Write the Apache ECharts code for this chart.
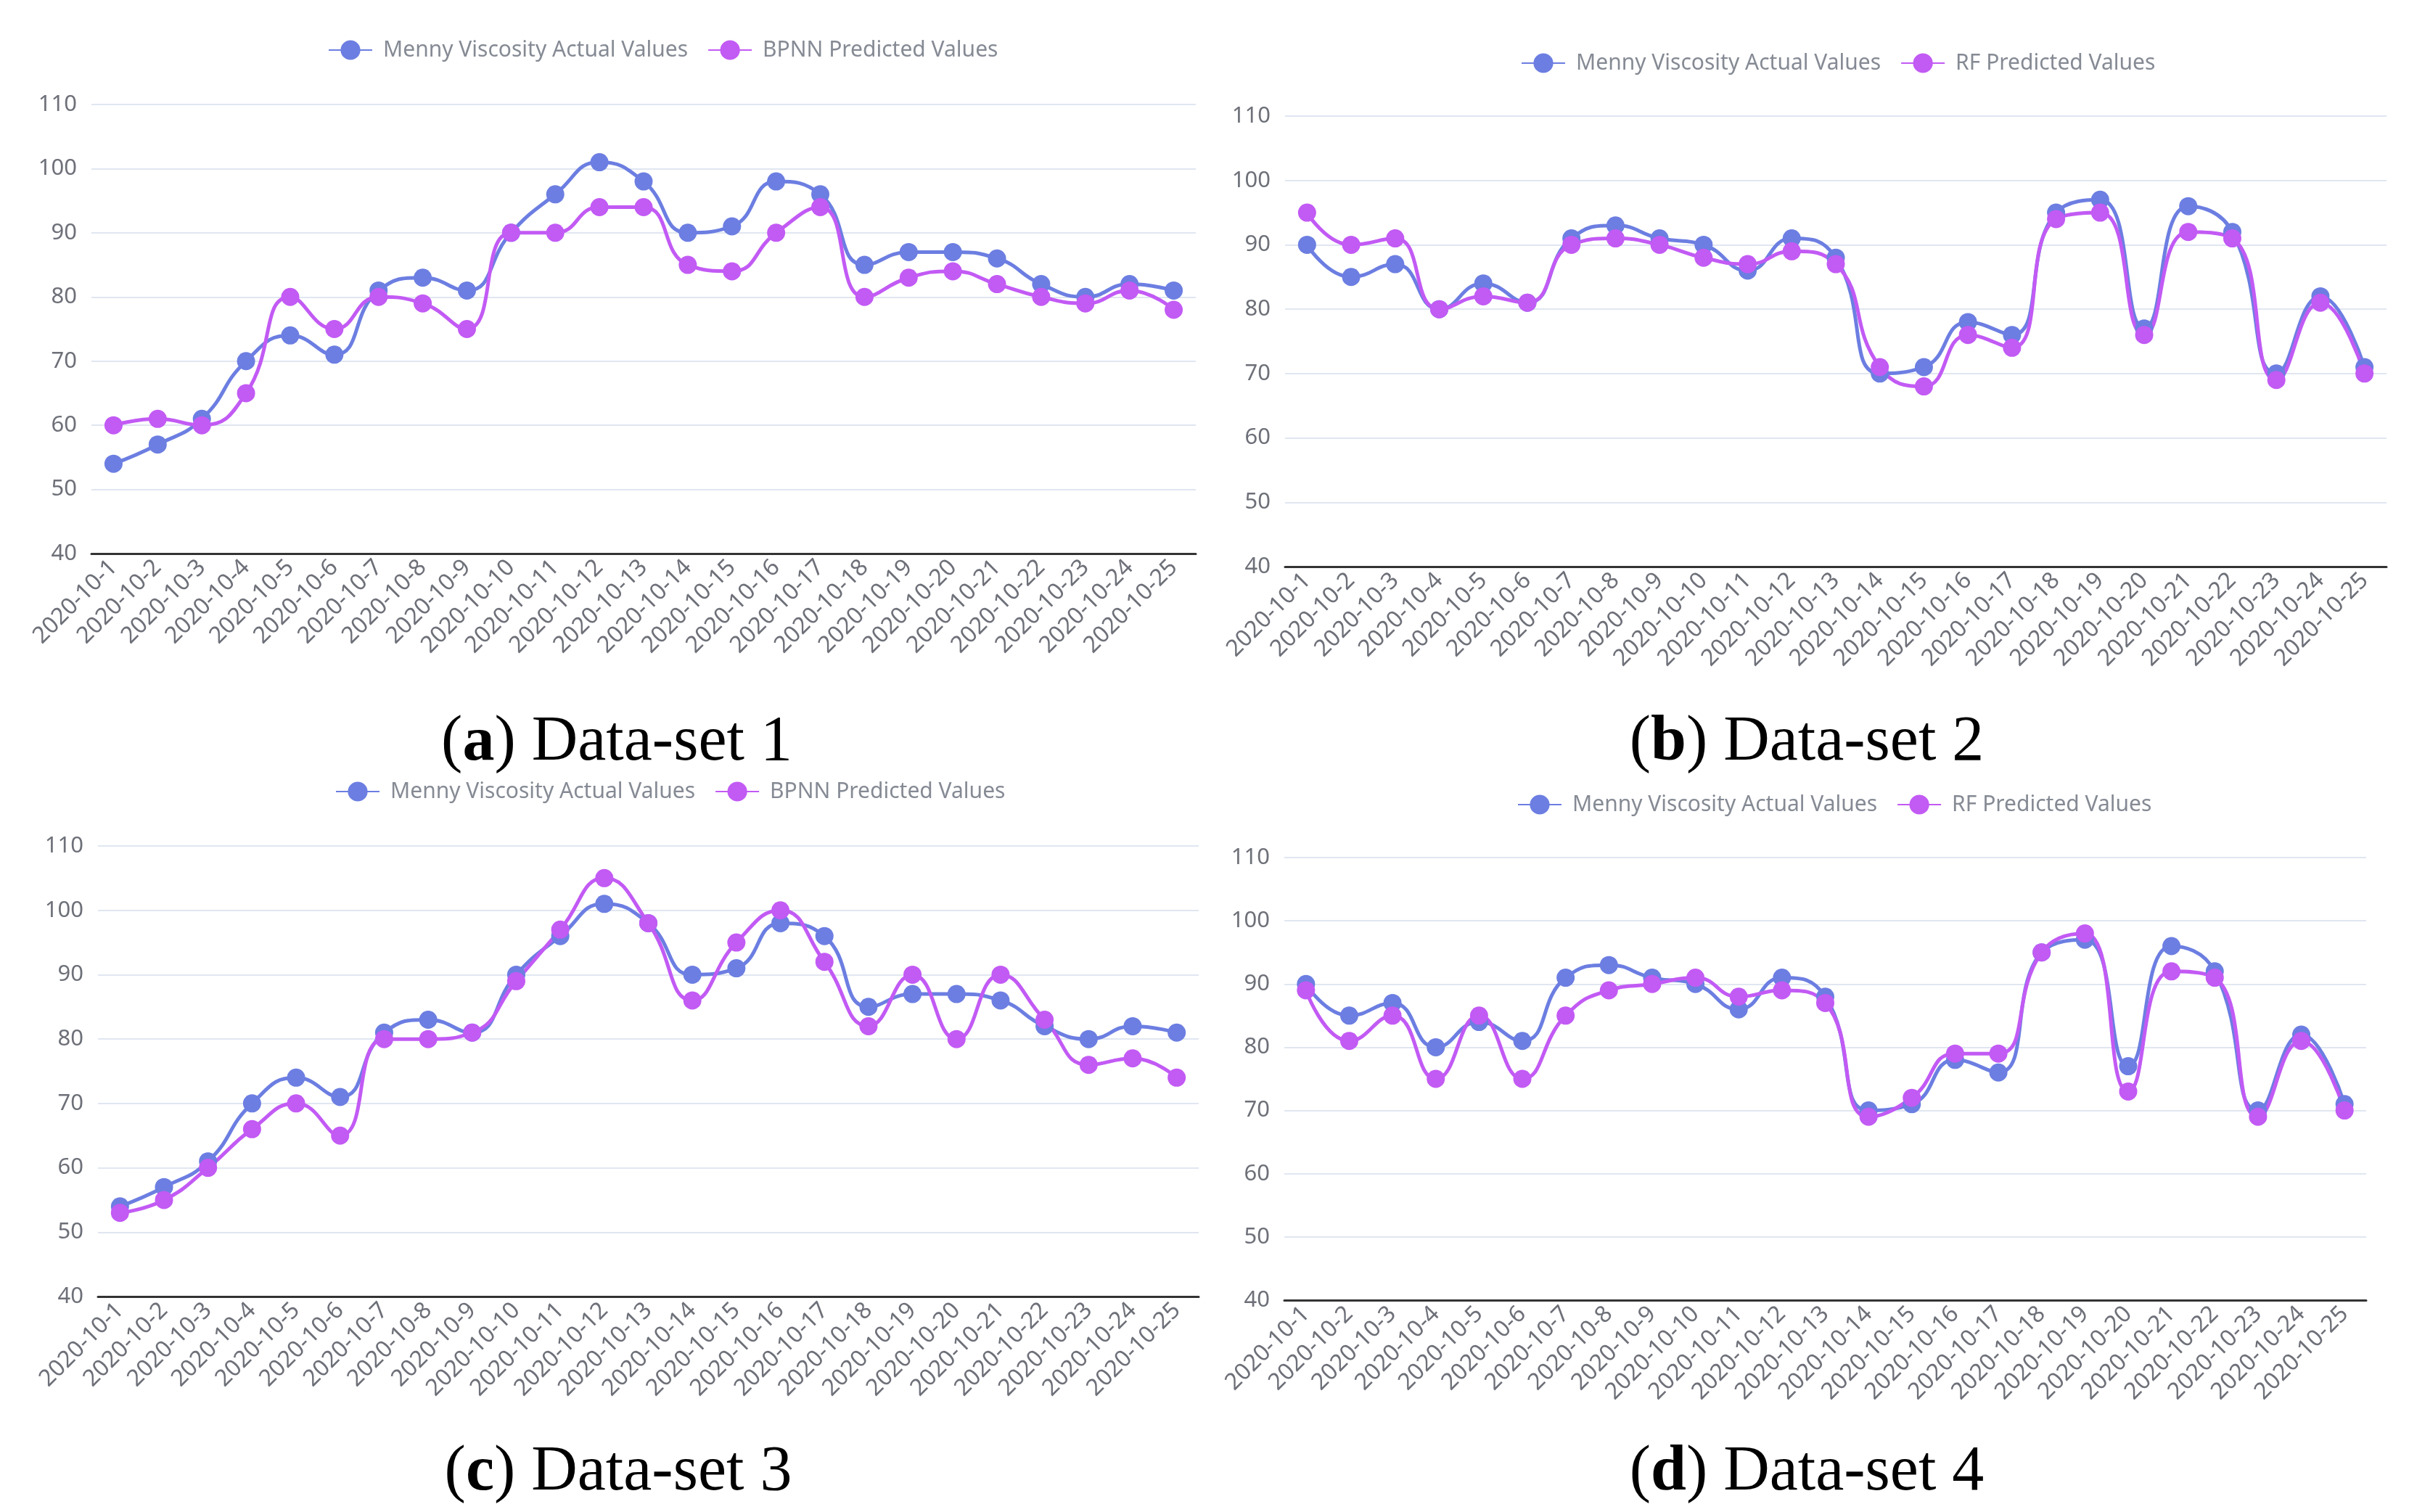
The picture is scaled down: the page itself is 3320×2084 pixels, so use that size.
<!DOCTYPE html>
<html>
<head>
<meta charset="utf-8">
<script src="https://cdn.jsdelivr.net/npm/echarts@6/dist/echarts.min.js"></script>
<style>
html,body{margin:0;padding:0;background:#fff;}
#chart{width:3320px;height:2084px;}
</style>
</head>
<body>
<div id="chart"></div>
<script>
// ---------- data ----------
const categories = ['2020-10-1','2020-10-2','2020-10-3','2020-10-4','2020-10-5','2020-10-6','2020-10-7','2020-10-8','2020-10-9','2020-10-10','2020-10-11','2020-10-12','2020-10-13','2020-10-14','2020-10-15','2020-10-16','2020-10-17','2020-10-18','2020-10-19','2020-10-20','2020-10-21','2020-10-22','2020-10-23','2020-10-24','2020-10-25'];

const actual1 = [54,57,61,70,74,71,81,83,81,90,96,101,98,90,91,98,96,85,87,87,86,82,80,82,81];
const bpnn1   = [60,61,60,65,80,75,80,79,75,90,90,94,94,85,84,90,94,80,83,84,82,80,79,81,78];

const actual2 = [90,85,87,80,84,81,91,93,91,90,86,91,88,70,71,78,76,95,97,77,96,92,70,82,71];
const rf2     = [95,90,91,80,82,81,90,91,90,88,87,89,87,71,68,76,74,94,95,76,92,91,69,81,70];

const actual3 = [54,57,61,70,74,71,81,83,81,90,96,101,98,90,91,98,96,85,87,87,86,82,80,82,81];
const bpnn3   = [53,55,60,66,70,65,80,80,81,89,97,105,98,86,95,100,92,82,90,80,90,83,76,77,74];

const actual4 = [90,85,87,80,84,81,91,93,91,90,86,91,88,70,71,78,76,95,97,77,96,92,70,82,71];
const rf4     = [89,81,85,75,85,75,85,89,90,91,88,89,87,69,72,79,79,95,98,73,92,91,69,81,70];

const yMin = 40, yMax = 110, yStep = 10;

const actualName = 'Menny Viscosity Actual Values';
const bpnnName = 'BPNN Predicted Values';
const rfName = 'RF Predicted Values';

const captionLetters = ['a','b','c','d'];
const captionTexts = ['Data-set 1','Data-set 2','Data-set 3','Data-set 4'];

// ---------- layout / style ----------
const panels = [
  {actual: actual1, pred: bpnn1, predName: bpnnName, grid:{left:126, top:144, width:1522, height:619}, legend:{left:447, cy:67},  cap:{x:850, y:1024}},
  {actual: actual2, pred: rf2,   predName: rfName,   grid:{left:1771, top:160, width:1518, height:621}, legend:{left:2091, cy:85}, cap:{x:2490, y:1024}},
  {actual: actual3, pred: bpnn3, predName: bpnnName, grid:{left:135, top:1166, width:1517, height:621}, legend:{left:457, cy:1089}, cap:{x:852, y:2030}},
  {actual: actual4, pred: rf4,   predName: rfName,   grid:{left:1770, top:1182, width:1491, height:610}, legend:{left:2086, cy:1107}, cap:{x:2490, y:2030}}
];

const colActual = '#6c7ee1';
const colPred = '#c25af4';
const sansFont = '"Microsoft YaHei", "Noto Sans", sans-serif';

const option = {
  animation: false,
  backgroundColor: '#ffffff',
  grid: [], xAxis: [], yAxis: [], series: [], legend: [], graphic: []
};

panels.forEach((p, i) => {
  option.grid.push(Object.assign({containLabel:false}, p.grid));
  option.xAxis.push({
    type: 'category', gridIndex: i, data: categories, boundaryGap: true,
    axisLine: {lineStyle: {color: '#333', width: 3}},
    axisTick: {show: false},
    axisLabel: {interval: 0, rotate: 45, margin: 14, fontSize: 32, color: '#6e7079', fontFamily: sansFont}
  });
  option.yAxis.push({
    type: 'value', gridIndex: i, min: yMin, max: yMax, interval: yStep,
    axisLine: {show: false}, axisTick: {show: false},
    axisLabel: {margin: 20, fontSize: 31, color: '#6e7079', fontFamily: sansFont},
    splitLine: {lineStyle: {color: '#e0e6f1', width: 2}}
  });
  option.series.push({
    name: actualName, type: 'line', xAxisIndex: i, yAxisIndex: i, data: p.actual,
    smooth: true, symbol: 'circle', symbolSize: 25,
    itemStyle: {color: colActual}, lineStyle: {color: colActual, width: 5}
  });
  option.series.push({
    name: p.predName, type: 'line', xAxisIndex: i, yAxisIndex: i, data: p.pred,
    smooth: true, symbol: 'circle', symbolSize: 25,
    itemStyle: {color: colPred}, lineStyle: {color: colPred, width: 5}
  });
  option.legend.push({
    data: [actualName, p.predName],
    left: p.legend.left, top: p.legend.cy - 18,
    itemWidth: 60, itemHeight: 34, itemGap: 27,
    selectedMode: false,
    textStyle: {fontSize: 30, color: '#858a94', fontFamily: sansFont, padding: [0,0,0,10]}
  });
  option.graphic.push({
    type: 'text', x: p.cap.x, y: p.cap.y,
    style: {
      text: '({b|' + captionLetters[i] + '}) ' + captionTexts[i],
      font: '88px "Liberation Serif", serif',
      fill: '#000', align: 'center', verticalAlign: 'middle',
      rich: {b: {fontWeight: 'bold', fontSize: 88, fontFamily: '"Liberation Serif", serif', fill: '#000'}}
    }
  });
});

const chart = echarts.init(document.getElementById('chart'));
chart.setOption(option);
</script>
</body>
</html>
